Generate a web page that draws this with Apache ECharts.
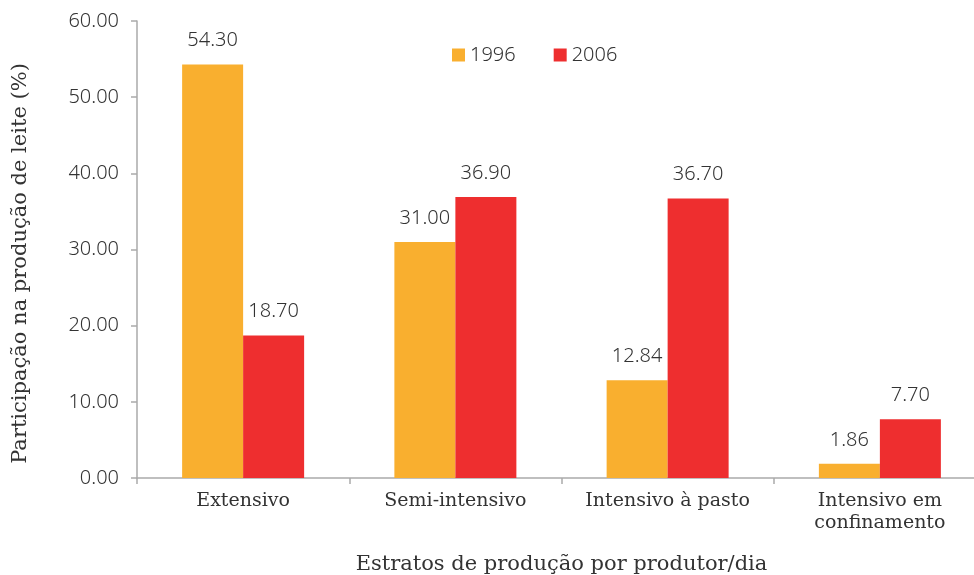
<!DOCTYPE html>
<html><head><meta charset="utf-8">
<script src="https://cdn.jsdelivr.net/npm/echarts@6/dist/echarts.min.js"></script>
<style>html,body{margin:0;padding:0;background:#fff}#c{width:974px;height:575px}</style>
</head><body><div id="c"></div>
<script>
var categories = ['Extensivo', 'Semi-intensivo', 'Intensivo à pasto', 'Intensivo em\nconfinamento'];
var s1996 = [54.30, 31.00, 12.84, 1.86];
var s2006 = [18.70, 36.90, 36.70, 7.70];
var seriesNames = ['1996', '2006'];
var yTicks = [0, 10, 20, 30, 40, 50, 60];

var chart = echarts.init(document.getElementById('c'));
var lbl = {show: true, position: 'top', distance: 14, color: '#333', fontFamily: 'Noto Sans', fontWeight: 300, fontSize: 20,
  formatter: function(p){ return p.value.toFixed(2); }};
chart.setOption({
  animation: false,
  grid: {left: 137, top: 21, width: 849, height: 457, outerBoundsMode: 'none', containLabel: false},
  legend: {top: 40, left: 447, itemWidth: 13, itemHeight: 13, itemGap: 38,
    textStyle: {fontFamily: 'Noto Sans', fontWeight: 300, fontSize: 20, color: '#333'}, icon: 'rect',
    data: seriesNames},
  xAxis: {type: 'category', data: categories,
    name: 'Estratos de produção por produtor/dia', nameLocation: 'middle', nameGap: 76,
    nameTextStyle: {fontFamily: 'DejaVu Serif', fontSize: 21, color: '#333'},
    axisLine: {lineStyle: {color: '#aaa', width: 1.5}},
    axisTick: {show: true, length: 6, interval: 0, lineStyle: {color: '#aaa', width: 1.5}},
    axisLabel: {interval: 0, fontFamily: 'DejaVu Serif', fontSize: 19, color: '#333', margin: 12, lineHeight: 22}},
  yAxis: {type: 'value', min: yTicks[0], max: yTicks[yTicks.length-1], interval: 10,
    name: 'Participação na produção de leite (%)', nameLocation: 'middle', nameGap: 106, nameRotate: 90,
    nameTextStyle: {fontFamily: 'DejaVu Serif', fontSize: 21, color: '#333', padding: [0, 28, 0, 0]},
    axisLine: {show: true, lineStyle: {color: '#aaa', width: 1.5}},
    axisTick: {show: true, length: 6, lineStyle: {color: '#aaa', width: 1.5}},
    splitLine: {show: false},
    axisLabel: {fontFamily: 'Noto Sans', fontWeight: 300, fontSize: 20, color: '#333', margin: 18,
      formatter: function(v){ return v.toFixed(2); }}},
  series: [
    {name: seriesNames[0], type: 'bar', data: s1996, barWidth: 61, barGap: '0%',
     itemStyle: {color: '#F9AF2F'}, label: lbl},
    {name: seriesNames[1], type: 'bar', data: s2006, barWidth: 61, barGap: '0%',
     itemStyle: {color: '#EE2E2F'}, label: lbl}
  ]
});
</script></body></html>
